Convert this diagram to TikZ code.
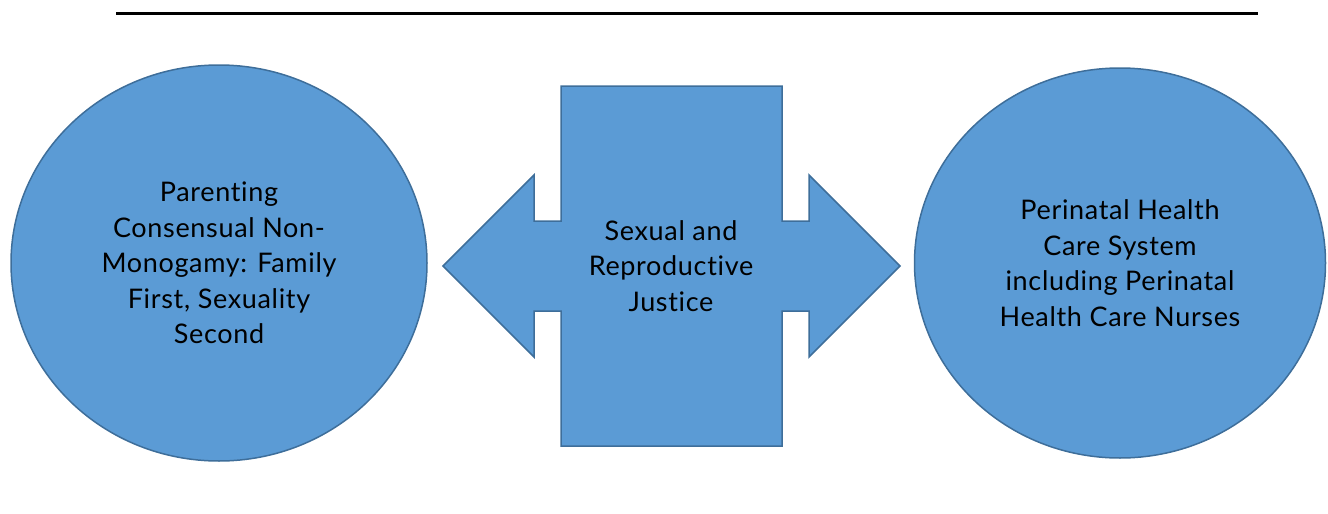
\documentclass[tikz,border=0pt]{standalone}
\usepackage{fontspec}
\setmainfont{Lato}[LetterSpace=2.5,RawFeature=-liga]
\usetikzlibrary{shapes.geometric}
\definecolor{fillblue}{HTML}{5B9BD5}
\definecolor{edgeblue}{HTML}{3E6E9A}
\begin{document}
\begin{tikzpicture}[x=1pt,y=-1pt,
  blob/.style={ellipse,draw=edgeblue,fill=fillblue,line width=1.5pt,inner sep=0pt,align=center,
    font=\fontsize{27}{35.5}\selectfont},
  lbl/.style={align=center,font=\fontsize{27}{35.5}\selectfont,inner sep=0pt}]
\useasboundingbox (0,0) rectangle (1328,514);
\draw[line width=3pt] (116,13) -- (1258,13);
\node[blob,minimum width=416pt,minimum height=396pt] (left) at (219,263)
  {Parenting\\Consensual Non-\\Monogamy: Family\\First, Sexuality\\Second};
\node[blob,minimum width=411pt,minimum height=390pt] (right) at (1120,263)
  {Perinatal Health\\Care System\\including Perinatal\\Health Care Nurses};
\draw[draw=edgeblue,fill=fillblue,line width=1.5pt]
  (561,86) -- (782,86) -- (782,221) -- (809,221) -- (809,175) -- (900,266)
  -- (809,357) -- (809,311) -- (782,311) -- (782,446) -- (561,446) -- (561,311)
  -- (534,311) -- (534,357) -- (443,266) -- (534,175) -- (534,221) -- (561,221) -- cycle;
\node[lbl] (center) at (671,266) {Sexual and\\Reproductive\\Justice};
\end{tikzpicture}
\end{document}
